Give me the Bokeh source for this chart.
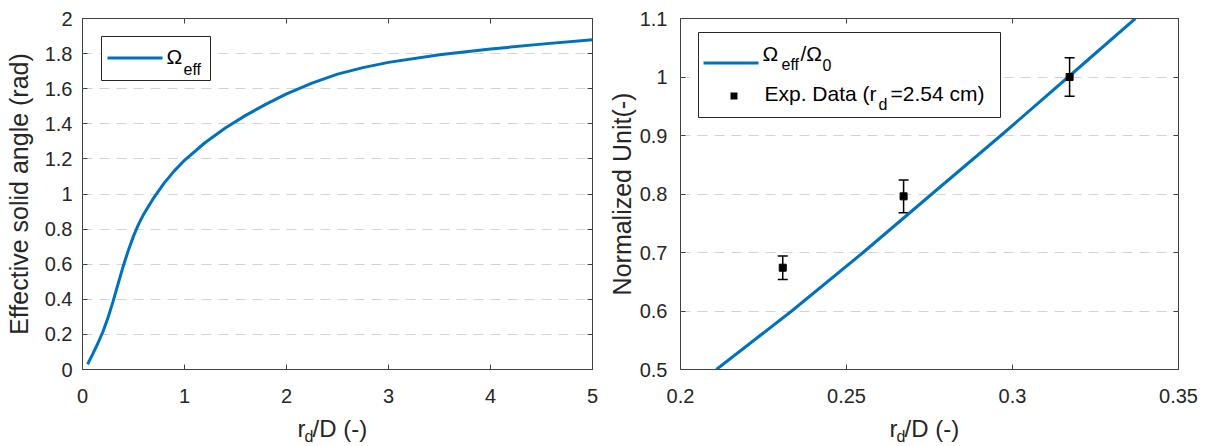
from bokeh.plotting import figure
from bokeh.models import (Range1d, FixedTicker, LinearAxis, CustomJSTickFormatter,
                          Label, BoxAnnotation, Whisker, TeeHead, ColumnDataSource)
from bokeh.layouts import row, column
from bokeh.embed import file_html
from bokeh.resources import INLINE

# ---------------- data ----------------
# Left panel: effective solid angle vs r_d/D
omega_x = [0.05, 0.1, 0.15, 0.2, 0.25, 0.3, 0.35, 0.4, 0.45, 0.5, 0.55, 0.6, 0.7, 0.8, 0.9, 1.0,
           1.2, 1.4, 1.6, 1.8, 2.0, 2.25, 2.5, 2.75, 3.0, 3.5, 4.0, 4.5, 5.0]
omega_y = [0.03, 0.088, 0.148, 0.215, 0.295, 0.388, 0.49, 0.59, 0.68, 0.76, 0.828, 0.885, 0.98, 1.062,
           1.132, 1.192, 1.292, 1.376, 1.448, 1.512, 1.57, 1.632, 1.683, 1.72, 1.75, 1.793, 1.826,
           1.854, 1.879]

# Right panel: normalized model curve and experimental points
norm_x = [0.2108, 0.2335, 0.2550, 0.2757, 0.2965, 0.3168, 0.3370]
norm_y = [0.5, 0.6, 0.7, 0.8, 0.9, 1.0, 1.1]
exp_x = [0.2308, 0.2672, 0.3172]
exp_y = [0.674, 0.796, 1.0]
exp_err = [0.020, 0.028, 0.033]

left_xticks = [0, 1, 2, 3, 4, 5]
left_yticks = [0, 0.2, 0.4, 0.6, 0.8, 1.0, 1.2, 1.4, 1.6, 1.8, 2.0]
right_xticks = [0.2, 0.25, 0.3, 0.35]
right_yticks = [0.5, 0.6, 0.7, 0.8, 0.9, 1.0, 1.1]

left_ylabel = "Effective solid angle (rad)"
right_ylabel = "Normalized Unit(-)"

# ---------------- style ----------------
FONT = "Liberation Sans"
BLUE = "#0072BD"
AX = "#404040"
TXT = "#262626"
GRID = "#d4d4d4"
MAIN_H = 411
LAB_H = 35


def fmt():
    return CustomJSTickFormatter(code="return String(Math.round(tick*1000)/1000)")


def blank_axis(ticks):
    return LinearAxis(ticker=FixedTicker(ticks=ticks),
                      formatter=CustomJSTickFormatter(code="return ''"),
                      major_label_text_font_size="0px", major_label_standoff=0,
                      major_tick_in=5, major_tick_out=0, minor_tick_in=0, minor_tick_out=0,
                      axis_line_color=None, major_tick_line_color=AX)


def make_fig(width, xr, yr, xticks, yticks, ylabel, bl, br, bt, bb, tick_standoff, label_standoff):
    p = figure(width=width, height=MAIN_H, x_range=Range1d(*xr), y_range=Range1d(*yr),
               output_backend="svg", toolbar_location=None, title=None,
               min_border_left=bl, min_border_right=br, min_border_top=bt, min_border_bottom=bb)
    p.background_fill_color = "white"
    p.border_fill_color = "white"
    p.outline_line_color = AX
    p.outline_line_width = 1
    p.outline_line_alpha = 1

    xt = FixedTicker(ticks=xticks)
    yt = FixedTicker(ticks=yticks)
    p.xaxis.ticker = xt
    p.yaxis.ticker = yt
    p.xaxis.formatter = fmt()
    p.yaxis.formatter = fmt()
    p.xgrid.visible = False
    p.ygrid.ticker = yt
    p.ygrid.grid_line_color = GRID
    p.ygrid.grid_line_dash = "10 7"
    p.ygrid.grid_line_width = 1

    for ax in (p.xaxis[0], p.yaxis[0]):
        ax.axis_line_color = None
        ax.major_tick_in = 5
        ax.major_tick_out = 0
        ax.minor_tick_in = 0
        ax.minor_tick_out = 0
        ax.major_tick_line_color = AX
        ax.major_label_text_font = FONT
        ax.major_label_text_font_size = "20px"
        ax.major_label_text_color = TXT
    p.xaxis[0].major_label_standoff = 19
    p.yaxis[0].major_label_standoff = tick_standoff
    p.yaxis[0].axis_label = ylabel
    p.yaxis[0].axis_label_text_font = FONT
    p.yaxis[0].axis_label_text_font_size = "25px"
    p.yaxis[0].axis_label_text_font_style = "normal"
    p.yaxis[0].axis_label_text_color = TXT
    p.yaxis[0].axis_label_standoff = label_standoff

    p.add_layout(blank_axis(xticks), "above")
    p.add_layout(blank_axis(yticks), "right")
    return p


def lab(p, text, x, y, size, color=TXT):
    # y is the vertical centre of the text, in px above the frame bottom
    p.add_layout(Label(x=x, y=y, x_units="screen", y_units="screen", text=text,
                       text_font=FONT, text_font_size=f"{size}px", text_color=color,
                       text_baseline="middle", text_align="left"))


def box(p, l, r, b, t, fill, line=None):
    p.add_layout(BoxAnnotation(left=l, right=r, bottom=b, top=t,
                               left_units="screen", right_units="screen",
                               top_units="screen", bottom_units="screen",
                               fill_color=fill, fill_alpha=1,
                               line_color=line, line_width=1, line_alpha=1 if line else 0))


def label_fig(width, center):
    q = figure(width=width, height=LAB_H, x_range=Range1d(0, 1), y_range=Range1d(0, 1),
               output_backend="svg", toolbar_location=None, title=None,
               x_axis_location=None, y_axis_location=None,
               min_border=0, min_border_left=0, min_border_right=0,
               min_border_top=0, min_border_bottom=0)
    q.xgrid.visible = False
    q.ygrid.visible = False
    q.outline_line_color = None
    q.background_fill_color = "white"
    q.border_fill_color = "white"
    x0 = center - 40
    lab(q, "r", x0, 18, 24)
    lab(q, "d", x0 + 7, 10, 16)
    lab(q, "/D (-)", x0 + 15, 18, 24)
    return q


# ---------------- left panel ----------------
W1, W2 = 600, 610
p1 = make_fig(W1, (0, 5), (0, 2), left_xticks, left_yticks, left_ylabel,
              82, 8, 18, 42, 10, 9)
p1.line(omega_x, omega_y, line_color=BLUE, line_width=3)
box(p1, 19, 128, 289, 333, "white", "#262626")
box(p1, 25, 80, 310, 313, BLUE)
lab(p1, "Ω", 84, 313, 21, "#000000")
lab(p1, "eff", 101, 300, 16, "#000000")

# ---------------- right panel ----------------
p2 = make_fig(W2, (0.2, 0.35), (0.5, 1.1), right_xticks, right_yticks, right_ylabel,
              80, 32, 15, 42, 13, 1)
p2.line(norm_x, norm_y, line_color=BLUE, line_width=3)
src = ColumnDataSource(data=dict(
    x=exp_x,
    upper=[y + e for y, e in zip(exp_y, exp_err)],
    lower=[y - e for y, e in zip(exp_y, exp_err)],
))
p2.add_layout(Whisker(base="x", upper="upper", lower="lower", source=src,
                      line_color="black", line_width=1.5,
                      upper_head=TeeHead(size=10, line_color="black", line_width=1.5),
                      lower_head=TeeHead(size=10, line_color="black", line_width=1.5)))
p2.scatter(exp_x, exp_y, marker="square", size=7, color="black")
box(p2, 18, 320, 252, 337, "white", "#262626")
box(p2, 23, 78, 305, 308, BLUE)
lab(p2, "Ω", 82, 316, 21, "#000000")
lab(p2, "eff", 101, 305, 16, "#000000")
lab(p2, "/Ω", 120, 316, 21, "#000000")
lab(p2, "0", 142, 305, 16, "#000000")
box(p2, 50, 57, 270, 277, "black")
lab(p2, "Exp. Data (r", 84, 276, 21, "#000000")
lab(p2, "d", 198, 265, 16, "#000000")
lab(p2, "=2.54 cm)", 210, 276, 21, "#000000")

l1 = label_fig(W1, 337)
l2 = label_fig(W2, 929 - W1)

layout = column(row(p1, p2), row(l1, l2))
open("out.html", "w").write(file_html(layout, INLINE))
